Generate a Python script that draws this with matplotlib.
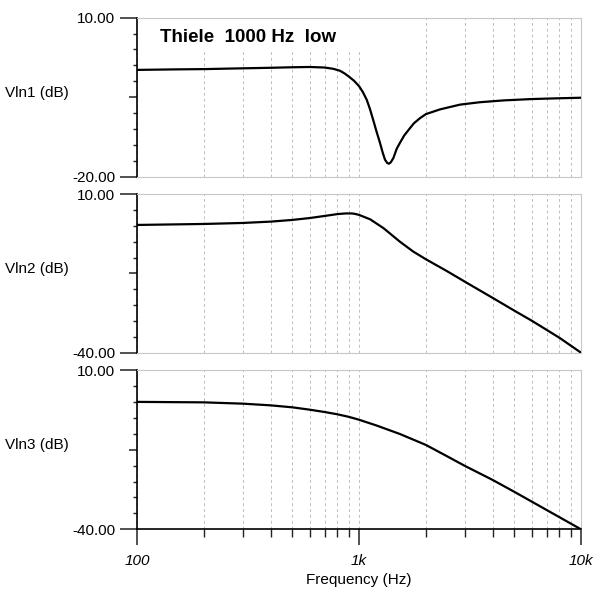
import matplotlib
matplotlib.use('Agg')
import matplotlib.pyplot as plt
from matplotlib.ticker import FixedLocator, NullFormatter
from matplotlib.patches import Rectangle

plt.rcParams['font.family'] = ['Liberation Sans', 'DejaVu Sans']

# Vln1: notch response
f1 = [100, 150, 200, 300, 400, 500, 600, 700, 767, 820, 860, 900, 950, 1000,
      1040, 1084, 1120, 1159, 1200, 1243, 1280, 1310, 1340, 1364, 1390, 1428,
      1480, 1530, 1600, 1700, 1770, 1884, 2000, 2317, 2852, 3500, 4500, 6000,
      8000, 10000]
v1 = [0.15, 0.25, 0.3, 0.45, 0.55, 0.65, 0.7, 0.6, 0.35, 0.0, -0.5, -1.1, -1.9,
      -2.9, -4.0, -5.5, -7.2, -9.3, -11.5, -13.6, -15.5, -16.8, -17.4, -17.55,
      -17.3, -16.5, -14.7, -13.6, -12.2, -10.8, -9.9, -8.95, -8.2, -7.3, -6.4,
      -5.95, -5.6, -5.35, -5.2, -5.1]

# Vln2: peaking low-pass
f2 = [100, 150, 200, 300, 400, 500, 600, 700, 800, 870, 930, 961, 1000, 1123,
      1290, 1531, 1757, 2000, 2483, 3000, 4000, 5000, 6000, 8000, 10000]
v2 = [0.32, 0.5, 0.63, 0.95, 1.37, 1.9, 2.5, 3.16, 3.75, 3.95, 3.95, 3.8, 3.5,
      2.1, -0.7, -5.0, -8.1, -10.5, -14.2, -17.6, -22.7, -26.7, -29.9, -35.3,
      -40.0]

# Vln3: smooth low-pass
f3 = [100, 200, 300, 400, 500, 600, 700, 800, 900, 1000, 1204, 1531, 2000,
      2483, 3000, 4000, 5000, 6000, 8000, 10000]
v3 = [0.0, -0.15, -0.56, -1.09, -1.7, -2.45, -3.18, -3.9, -4.7, -5.6, -7.45,
      -10.1, -13.5, -17.0, -20.1, -24.5, -28.2, -31.3, -36.2, -40.0]

ylims = [(-20, 10), (-40, 10), (-40, 10)]
ylabels = ['Vln1 (dB)', 'Vln2 (dB)', 'Vln3 (dB)']
xticks = [100, 1000, 10000]
xticklabels = ['100', '1k', '10k']
xminor = [m * d for d in (100, 1000) for m in range(2, 10)]

fig = plt.figure(figsize=(6, 6), dpi=100)
rects = [[0.2283, 0.7055, 0.74, 0.265],
         [0.2283, 0.4122, 0.74, 0.264],
         [0.2283, 0.1178, 0.74, 0.2655]]
label_y = [1 - 93 / 600, 1 - 269 / 600, 1 - 445 / 600]

data = [(f1, v1), (f2, v2), (f3, v3)]
gray = '#c8c8c8'

for i, (rect, (f, v), (lo, hi)) in enumerate(zip(rects, data, ylims)):
    ax = fig.add_axes(rect)
    ax.set_axisbelow(True)
    ax.plot(f, v, color='black', lw=1.6, zorder=3, solid_joinstyle='round')
    ax.set_xscale('log')
    ax.set_xlim(100, 10000)
    ax.set_ylim(lo, hi)

    ax.xaxis.set_major_locator(FixedLocator(xticks))
    ax.xaxis.set_minor_locator(FixedLocator(xminor))
    ax.xaxis.set_minor_formatter(NullFormatter())
    ax.grid(True, which='both', axis='x', color='#bdbdbd', ls=(0, (3, 3)), lw=0.7)

    step = (hi - lo) / 10
    ax.yaxis.set_major_locator(FixedLocator([lo, lo + 5 * step, hi]))
    ax.yaxis.set_minor_locator(FixedLocator([lo + k * step for k in range(1, 10) if k != 5]))
    ax.set_yticklabels(['%.2f' % lo, '', '%.2f' % hi])

    for side in ['top', 'right']:
        ax.spines[side].set_color(gray)
    ax.spines['left'].set_color('black')
    ax.spines['left'].set_linewidth(1.2)

    ax.tick_params(axis='y', which='major', length=12.2, width=1.1, pad=3.5,
                   labelsize=11, color='#222222')
    ax.tick_params(axis='y', which='minor', length=3, width=1.0, color='#222222')

    if i < 2:
        ax.spines['bottom'].set_color(gray)
        ax.tick_params(axis='x', which='both', length=0, labelbottom=False)
    else:
        ax.spines['bottom'].set_color('black')
        ax.spines['bottom'].set_linewidth(1.2)
        ax.set_xticklabels(xticklabels, fontstyle='italic')
        ax.tick_params(axis='x', which='major', length=11.5, width=1.1, pad=6,
                       labelsize=11, color='#222222')
        ax.tick_params(axis='x', which='minor', length=6, width=1.0, color='#222222')
        ax.set_xlabel('Frequency (Hz)', fontsize=11, labelpad=4)

    # medium tick at the middle of the y axis
    ax.yaxis.get_major_ticks()[1].tick1line.set_markersize(6)

    fig.text(5 / 600, label_y[i], ylabels[i], fontsize=11, ha='left', va='center')

    if i == 0:
        ax.add_patch(Rectangle((0, 0.8), 0.514, 0.2, transform=ax.transAxes,
                               facecolor='white', edgecolor='none', zorder=1))
        ax.text(0.052, 0.875, 'Thiele  1000 Hz  low', transform=ax.transAxes,
                fontsize=13.5, fontweight='bold', ha='left', va='center', zorder=4)

fig.savefig('out.png', dpi=100)
